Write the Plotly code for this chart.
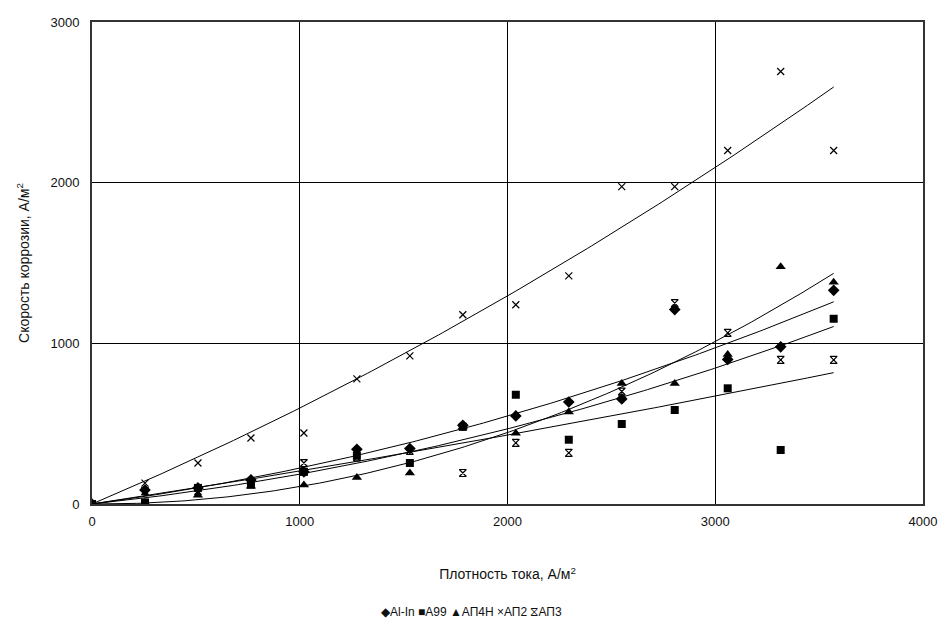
import numpy as np
import plotly.graph_objects as go

# Current density, A/m^2
current_density = [0, 255, 510, 765, 1020, 1275, 1530, 1785, 2040, 2295, 2550, 2805, 3060, 3315, 3570]

# Corrosion rate, A/m^2
al_in = [0, 87, 100, 150, 200, 340, 345, 490, 548, 635, 654, 1210, 900, 978, 1330]
a99 = [0, 10, 100, 120, 200, 300, 255, 480, 680, 400, 498, 585, 720, 336, 1153]
ap4n = [0, 10, 55, 110, 118, 165, 193, 480, 440, 573, 750, 750, 930, 1477, 1380]
ap2 = [0, 130, 255, 411, 442, 779, 922, 1178, 1240, 1420, 1975, 1975, 2200, 2692, 2200]
ap3 = [0, 80, 80, 140, 255, 290, 330, 193, 380, 318, 700, 1250, 1065, 897, 897]

series_names = ["Al-In", "A99", "АП4Н", "АП2", "АП3"]
series_values = [al_in, a99, ap4n, ap2, ap3]
symbols = ["diamond", "square", "triangle-up", "x-thin-open", "hourglass-open"]
legend_glyphs = ["◆", "■", "▲", "×", "⧖"]
sizes = [9, 8, 9, 7, 7]

fig = go.Figure()
x = np.array(current_density, dtype=float)
xfit = np.linspace(0, x.max(), 200)
A = np.vstack([x, x ** 2]).T
for vals in series_values:
    y = np.array(vals, dtype=float)
    (a, b), *_ = np.linalg.lstsq(A, y, rcond=None)
    fig.add_trace(go.Scatter(x=xfit, y=a * xfit + b * xfit ** 2, mode="lines",
                             line=dict(color="black", width=1), showlegend=False,
                             hoverinfo="skip"))
for name, vals, sym, sz in zip(series_names, series_values, symbols, sizes):
    open_sym = sym.endswith("open")
    fig.add_trace(go.Scatter(x=current_density, y=vals, mode="markers", name=name,
                             showlegend=False,
                             marker=dict(symbol=sym, size=sz, color="black",
                                         line=dict(color="black", width=1.2 if open_sym else 0))))

legend_text = " ".join(g + n for g, n in zip(legend_glyphs, series_names))

font = "Liberation Sans, Arial, sans-serif"
fig.update_layout(
    width=949, height=629,
    margin=dict(l=92, r=21, t=22, b=125),
    paper_bgcolor="white", plot_bgcolor="white",
    font=dict(family=font, size=13, color="#111"),
    showlegend=False,
    xaxis=dict(range=[0, 4000], tickvals=[0, 1000, 2000, 3000, 4000],
               showgrid=True, gridcolor="black", gridwidth=1.3,
               showline=True, linecolor="#333", linewidth=2, mirror=True,
               zeroline=False, ticks="", ticklen=0, ticklabelstandoff=4,
               tickfont=dict(size=13),
               title=dict(text="Плотность тока, А/м<sup>2</sup>", standoff=42,
                          font=dict(size=14))),
    yaxis=dict(range=[0, 3000], tickvals=[0, 1000, 2000, 3000],
               showgrid=True, gridcolor="black", gridwidth=1.3,
               showline=True, linecolor="#333", linewidth=2, mirror=True,
               zeroline=False, ticks="", ticklen=0, ticklabelstandoff=8,
               tickfont=dict(size=13),
               title=dict(text="Скорость коррозии, А/м<sup>2</sup>", standoff=18,
                          font=dict(size=14))),
    annotations=[dict(text=legend_text, xref="paper", yref="paper",
                      x=0.457, y=-0.224, xanchor="center", yanchor="middle",
                      showarrow=False, font=dict(size=12, color="#111"))],
)

fig.write_html("out.html")
